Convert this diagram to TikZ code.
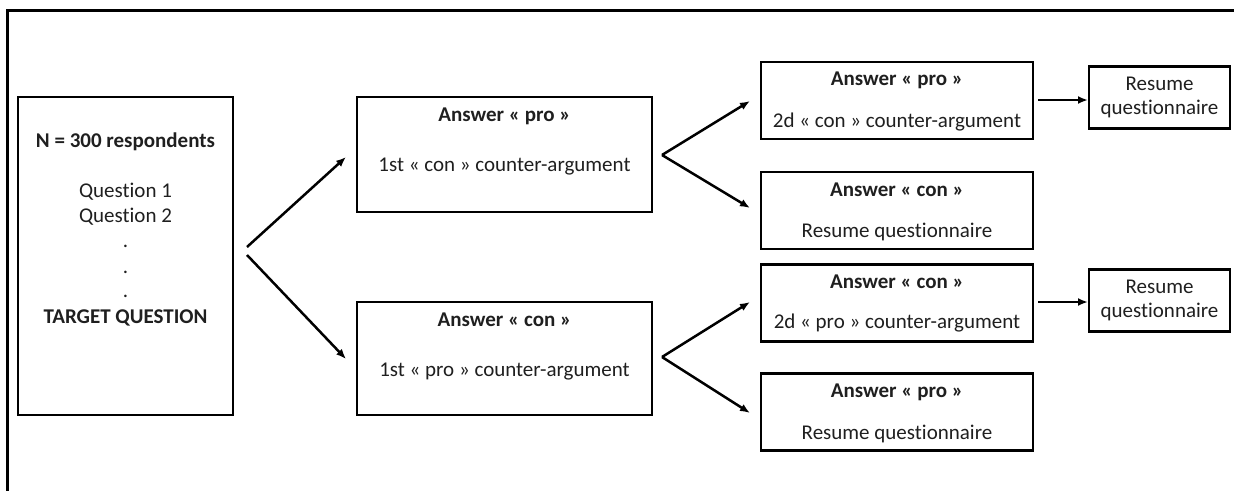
\documentclass[tikz,border=0pt]{standalone}
\usepackage{fontspec}
\setmainfont{Carlito}[Ligatures=NoCommon]
\usetikzlibrary{arrows.meta}
\begin{document}
\begin{tikzpicture}[x=1pt,y=-1pt,
  box/.style={draw=black,line width=2.8pt,rectangle,inner sep=0pt},
  txt/.style={inner sep=0pt,font=\fontsize{21}{24.5}\selectfont,text=black!88},
  btxt/.style={txt,font=\fontsize{21}{24.5}\selectfont\bfseries},
  arr/.style={line width=2.5pt,-{Latex[length=10pt,width=8pt]}}]
\useasboundingbox (0,0) rectangle (1234,490);
% frame
\draw[line width=3pt] (7,492) -- (7,10) -- (1236,10);
% boxes
\node[box,minimum width=215pt,minimum height=318pt] (start) at (125.5,256) {};
\node[box,minimum width=295pt,minimum height=115pt] (pro1) at (504.5,154.5) {};
\node[box,minimum width=295pt,minimum height=113pt] (con1) at (504.5,358.5) {};
\node[box,minimum width=272pt,minimum height=77pt] (A) at (897,100.5) {};
\node[box,minimum width=272pt,minimum height=77pt] (B) at (897,210.5) {};
\node[box,minimum width=272pt,minimum height=77pt] (C) at (897,303) {};
\node[box,minimum width=272pt,minimum height=77pt] (D) at (897,412) {};
\node[box,minimum width=141pt,minimum height=62pt] (R1) at (1159.5,97.5) {};
\node[box,minimum width=141pt,minimum height=62pt] (R2) at (1159.5,300.5) {};
% start text
\node[btxt] (s1) at (125.5,142) {N = 300 respondents};
\node[txt] (s2) at (125.5,192) {Question 1};
\node[txt] (s3) at (125.5,217) {Question 2};
\node[txt] (d1) at (125.5,246) {.};
\node[txt] (d2) at (125.5,272) {.};
\node[txt] (d3) at (125.5,296) {.};
\node[btxt] (s4) at (125.5,318) {TARGET QUESTION};
% pro1 / con1 text
\node[btxt] (p1a) at (504.5,116) {Answer « pro »};
\node[txt] (p1b) at (504.5,167) {1st « con » counter-argument};
\node[btxt] (c1a) at (504.5,320) {Answer « con »};
\node[txt] (c1b) at (504.5,372) {1st « pro » counter-argument};
% right column text
\node[btxt] (Aa) at (897,80) {Answer « pro »};
\node[txt] (Ab) at (897,122) {2d « con » counter-argument};
\node[btxt] (Ba) at (897,190) {Answer « con »};
\node[txt] (Bb) at (897,232) {Resume questionnaire};
\node[btxt] (Ca) at (897,282) {Answer « con »};
\node[txt] (Cb) at (897,323) {2d « pro » counter-argument};
\node[btxt] (Da) at (897,392) {Answer « pro »};
\node[txt] (Db) at (897,434) {Resume questionnaire};
\node[txt,align=center] (R1t) at (1159.5,97.5) {Resume\\questionnaire};
\node[txt,align=center] (R2t) at (1159.5,300.5) {Resume\\questionnaire};
% connector coordinates
\coordinate (f0a) at (247,247);
\coordinate (f0b) at (247,255);
\coordinate (t0a) at (346,157);
\coordinate (t0b) at (346,359);
\coordinate (f1) at (662,155);
\coordinate (t1a) at (750,101);
\coordinate (t1b) at (750,208);
\coordinate (f2) at (662,357);
\coordinate (t2a) at (750,302);
\coordinate (t2b) at (750,413);
\coordinate (fA) at (1038,100);
\coordinate (tA) at (1088,100);
\coordinate (fC) at (1038,302);
\coordinate (tC) at (1088,302);
% connectors
\draw[arr] (f0a) -- (t0a);
\draw[arr] (f0b) -- (t0b);
\draw[arr] (f1) -- (t1a);
\draw[arr] (f1) -- (t1b);
\draw[arr] (f2) -- (t2a);
\draw[arr] (f2) -- (t2b);
\draw[arr] (fA) -- (tA);
\draw[arr] (fC) -- (tC);
\end{tikzpicture}
\end{document}
